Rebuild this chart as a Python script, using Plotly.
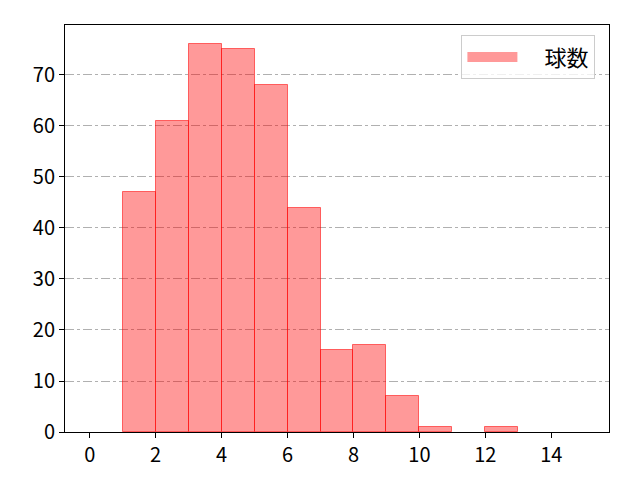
import plotly.graph_objects as go

bin_edges = list(range(0, 16))
counts = [0, 47, 61, 76, 75, 68, 44, 16, 17, 7, 1, 0, 1, 0, 0]
series_name = "球数"

centers = [(a + b) / 2 for a, b in zip(bin_edges[:-1], bin_edges[1:])]
# empty bins get no outline so they stay invisible like in matplotlib
edge_widths = [1 if c > 0 else 0 for c in counts]

fig = go.Figure()
fig.add_trace(
    go.Bar(
        x=centers,
        y=counts,
        width=1,
        name=series_name,
        marker=dict(
            color="rgba(255,0,0,0.4)",
            line=dict(color="rgba(255,0,0,0.55)", width=edge_widths),
        ),
        showlegend=False,
    )
)
# legend-only trace: a thick line gives the wide patch matplotlib draws
fig.add_trace(
    go.Scatter(
        x=[None],
        y=[None],
        mode="lines",
        name="\u2003" + series_name,
        line=dict(color="rgba(255,0,0,0.4)", width=17),
        showlegend=True,
    )
)

fig.update_layout(
    width=640,
    height=480,
    margin=dict(l=57, r=39, t=17, b=56),
    paper_bgcolor="white",
    plot_bgcolor="white",
    bargap=0,
    font=dict(family="Noto Sans CJK JP", size=20, color="black"),
    legend=dict(
        x=0.975,
        y=0.975,
        xanchor="right",
        yanchor="top",
        bordercolor="#cccccc",
        borderwidth=1,
        bgcolor="rgba(255,255,255,0.8)",
        font=dict(size=22),
        itemwidth=50,
    ),
)
fig.update_xaxes(
    range=[-0.75, 15.75],
    tickvals=list(range(0, 16, 2)),
    showgrid=False,
    zeroline=False,
    ticks="outside",
    ticklen=5,
    tickcolor="black",
    showline=True,
    linecolor="black",
    linewidth=1,
    mirror=True,
)
fig.update_yaxes(
    range=[0, 79.8],
    tickvals=list(range(0, 80, 10)),
    showgrid=True,
    gridcolor="#b0b0b0",
    griddash="dashdot",
    gridwidth=1,
    zeroline=False,
    ticks="outside",
    ticklen=5,
    tickcolor="black",
    showline=True,
    linecolor="black",
    linewidth=1,
    mirror=True,
)

fig.write_html("out.html")
